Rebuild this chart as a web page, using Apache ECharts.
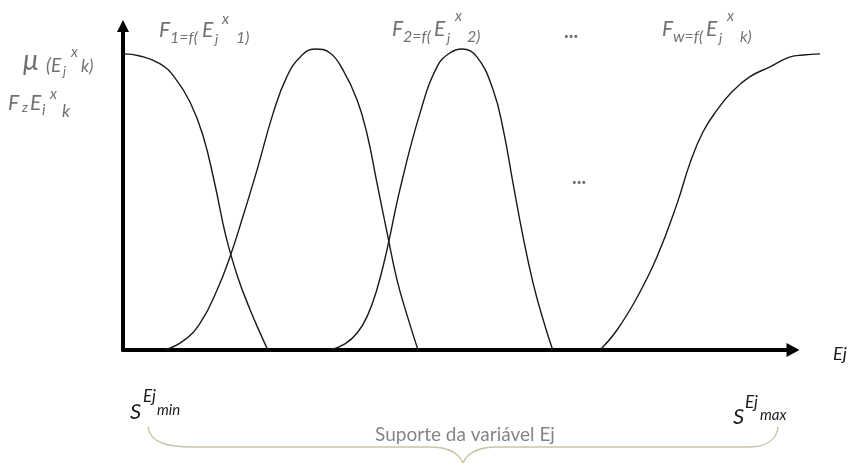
<!DOCTYPE html>
<html lang="pt">
<head>
<meta charset="UTF-8">
<title>Funções de pertinência</title>
<script src="https://cdn.jsdelivr.net/npm/echarts@6/dist/echarts.min.js"></script>
<style>
    body{
        margin:0;
        background:#fff;
    }
    #chart{
        width:853px;
        height:466px;
    }
</style>
</head>
<body>
<div id="chart"></div>
<script>
// membership curves, x in support units (axis arrow at 99), y = degree of membership
var f1X = [0, 2.5, 5.5, 7.7, 9.9, 11.8, 13.6, 15.2, 17.0, 18.8, 20.2, 21.4];
var f1Y = [0.978, 0.971, 0.945, 0.898, 0.819, 0.710, 0.545, 0.376, 0.238, 0.132, 0.059, 0];

var f2X = [6.2, 8.9, 11.4, 13.9, 15.8, 17.7, 19.8, 22.2, 24.2, 26.2, 28.4, 30.6, 32.5, 34.6, 36.1, 37.5, 39.0, 40.5, 42.1, 43.6];
var f2Y = [0, 0.030, 0.089, 0.198, 0.307, 0.439, 0.594, 0.783, 0.902, 0.968, 0.994, 0.981, 0.925, 0.826, 0.710, 0.555, 0.390, 0.231, 0.106, 0];

var f3X = [30.6, 32.8, 34.6, 36.1, 37.5, 39.0, 40.9, 43.9, 46.4, 48.3, 50.1, 52.3, 54.7, 56.2, 57.6, 59.1, 60.6, 62.1, 63.5];
var f3Y = [0, 0.020, 0.056, 0.112, 0.198, 0.330, 0.528, 0.783, 0.935, 0.981, 0.994, 0.968, 0.859, 0.727, 0.555, 0.376, 0.221, 0.099, 0];

var fwX = [70.5, 73.0, 76.0, 78.9, 81.9, 83.8, 85.7, 87.8, 90.1, 92.6, 95.6, 98.6, 100.5, 103.0];
var fwY = [0, 0.066, 0.175, 0.307, 0.485, 0.618, 0.720, 0.793, 0.855, 0.902, 0.935, 0.968, 0.974, 0.978];

var curveNames = ['F1', 'F2', 'F3', 'Fw'];
var curves = [[f1X, f1Y], [f2X, f2Y], [f3X, f3Y], [fwX, fwY]];

var GRAY = '#727272';
var INK = '#1b1b1b';
var BRACE = '#c8c3a6';

function zip(xs, ys) {
    return xs.map(function (x, i) { return [x, ys[i]]; });
}

// one piece of a formula: text, left x, baseline y, font size
function piece(p, color, italic) {
    var size = p[3];
    var font = (italic === false ? '' : 'italic ') + size + 'px Lato';
    return {
        type: 'text',
        silent: true,
        style: {
            text: p[0],
            x: p[1],
            y: p[2] - 0.32 * size,
            font: font,
            fill: color,
            align: 'left',
            verticalAlign: 'middle'
        }
    };
}

function formula(parts, color, italic) {
    return parts.map(function (p) { return piece(p, color, italic); });
}

var muLabel = [['μ', 23, 70, 28], ['(E', 46, 72, 19], ['j', 63, 76, 13], ['x', 71, 57, 15], ['k)', 81, 72, 17]];
var fzLabel = [['F', 8, 110, 21], ['z', 22, 112, 14], ['E', 30, 110, 21], ['i', 42, 115, 15], ['x', 50, 99, 15], ['k', 62, 117, 17]];
var f1Label = [['F', 159, 37, 21], ['1=f(', 170, 43, 16], ['E', 202, 37, 21], ['j', 215, 44, 14], ['x', 222, 24, 15], ['1)', 236, 43, 16]];
var f2Label = [['F', 392, 36, 21], ['2=f(', 403, 42, 16], ['E', 434, 36, 21], ['j', 447, 43, 14], ['x', 455, 21, 15], ['2)', 467, 42, 16]];
var fwLabel = [['F', 662, 36, 21], ['w=f(', 673, 42, 16], ['E', 706, 36, 21], ['j', 719, 43, 14], ['x', 727, 21, 15], ['k)', 740, 42, 16]];
var dots = [['...', 564, 38, 20], ['...', 572, 184, 20]];
var sMin = [['S', 130, 419, 22], ['Ej', 143, 402, 17], ['min', 157, 415, 15]];
var sMax = [['S', 733, 424, 22], ['Ej', 745, 408, 17], ['max', 760, 420, 15]];
var axisName = [['Ej', 833, 360, 18]];

var graphics = []
    .concat(formula(muLabel, GRAY))
    .concat(formula(fzLabel, GRAY))
    .concat(formula(f1Label, GRAY))
    .concat(formula(f2Label, GRAY))
    .concat(formula(fwLabel, GRAY))
    .concat(dots.map(function (p) {
        var el = piece(p, GRAY, false);
        el.style.font = 'bold 20px Lato';
        return el;
    }))
    .concat(formula(sMin, INK))
    .concat(formula(sMax, INK))
    .concat(formula(axisName, INK));

// brace under the support: [x1, y1, x2, y2, cpx1, cpy1, cpx2, cpy2]
var braceCurves = [
    [148, 427, 193, 447, 150, 443, 168, 447],
    [430, 447, 463, 463, 450, 447, 459, 454],
    [463, 463, 497, 447, 467, 454, 476, 447],
    [747, 447, 778, 427, 766, 447, 777, 440]
];
var braceLines = [[193, 447, 430, 447], [497, 447, 747, 447]];
braceCurves.forEach(function (b) {
    graphics.push({
        type: 'bezierCurve',
        silent: true,
        shape: { x1: b[0], y1: b[1], x2: b[2], y2: b[3], cpx1: b[4], cpy1: b[5], cpx2: b[6], cpy2: b[7] },
        style: { fill: 'none', stroke: BRACE, lineWidth: 1.4 }
    });
});
braceLines.forEach(function (b) {
    graphics.push({
        type: 'line',
        silent: true,
        shape: { x1: b[0], y1: b[1], x2: b[2], y2: b[3] },
        style: { stroke: BRACE, lineWidth: 1.4 }
    });
});
graphics.push({
    type: 'text',
    silent: true,
    style: {
        text: 'Suporte da variável Ej',
        x: 465,
        y: 435,
        font: '19px Lato',
        fill: '#858585',
        align: 'center',
        verticalAlign: 'middle'
    }
});

var hidden = {
    axisLine: { show: false },
    axisTick: { show: false },
    axisLabel: { show: false },
    splitLine: { show: false }
};

function arrowAxis(extra, size) {
    return Object.assign({
        type: 'value',
        min: 0,
        axisLine: {
            show: true,
            symbol: ['none', 'triangle'],
            symbolSize: size,
            lineStyle: { color: '#000', width: 4 }
        },
        axisTick: { show: false },
        axisLabel: { show: false },
        splitLine: { show: false }
    }, extra);
}

var option = {
    animation: false,
    grid: [
        // data grid: reaches past the arrow so the last curve can run on
        { left: 123, right: 33, top: 26, bottom: 116 },
        // axis grid: its x axis ends under the arrow head
        { left: 123, right: 60, top: 26, bottom: 116 }
    ],
    xAxis: [
        Object.assign({ type: 'value', min: 0, max: 103, gridIndex: 0 }, hidden),
        arrowAxis({ max: 99, gridIndex: 1 }, [14, 13])
    ],
    yAxis: [
        arrowAxis({ max: 1.07, gridIndex: 0 }, [12, 12]),
        Object.assign({ type: 'value', min: 0, max: 1.07, gridIndex: 1 }, hidden)
    ],
    series: curves.map(function (c, i) {
        return {
            name: curveNames[i],
            type: 'line',
            xAxisIndex: 0,
            yAxisIndex: 0,
            data: zip(c[0], c[1]),
            smooth: 0.45,
            showSymbol: false,
            symbol: 'none',
            clip: false,
            lineStyle: { color: '#1a1a1a', width: 1.4 }
        };
    }),
    graphic: { elements: graphics }
};

var myChart = echarts.init(document.getElementById('chart'));
myChart.setOption(option);
</script>
</body>
</html>
